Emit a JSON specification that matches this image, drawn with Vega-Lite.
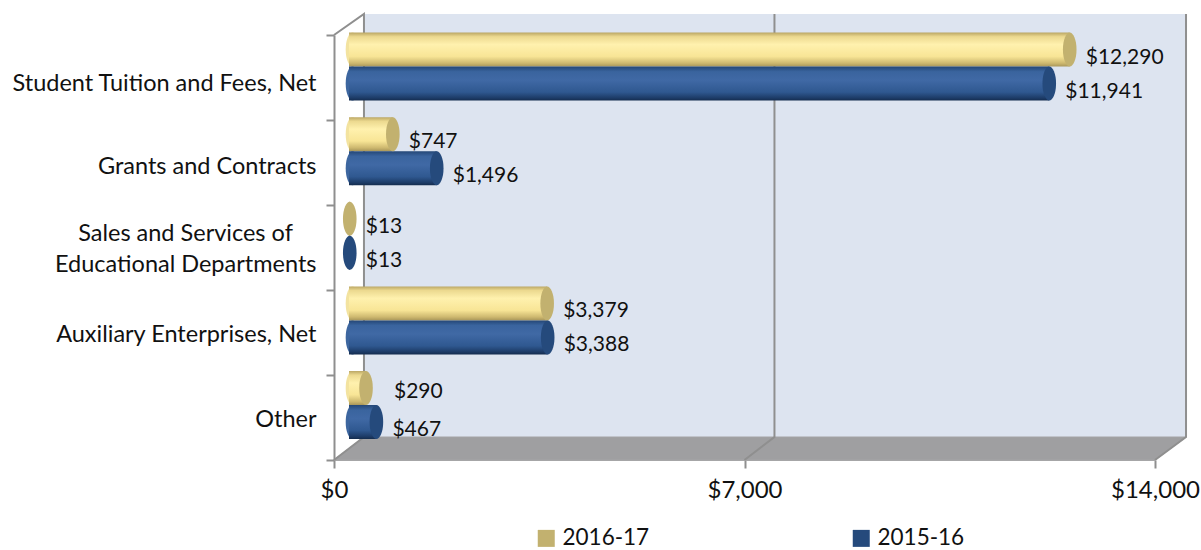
{
"$schema":"https://vega.github.io/schema/vega-lite/v6.json",
"width":821,"height":425,
"autosize":"none",
"padding":{"left":334,"top":35,"right":46,"bottom":90},
"background":"white",
"config":{"view":{"stroke":null},"font":"Lato","text":{"font":"Lato"}},
"datasets":{
"rev":[
{"category":"Student Tuition and Fees, Net","series":"2016-17","value":12290},
{"category":"Student Tuition and Fees, Net","series":"2015-16","value":11941},
{"category":"Grants and Contracts","series":"2016-17","value":747},
{"category":"Grants and Contracts","series":"2015-16","value":1496},
{"category":"Sales and Services of Educational Departments","series":"2016-17","value":13},
{"category":"Sales and Services of Educational Departments","series":"2015-16","value":13},
{"category":"Auxiliary Enterprises, Net","series":"2016-17","value":3379},
{"category":"Auxiliary Enterprises, Net","series":"2015-16","value":3388},
{"category":"Other","series":"2016-17","value":290},
{"category":"Other","series":"2015-16","value":467}
],
"wall":[{"x0":511,"x1":14529,"y0":23,"y1":446}],
"floor":[{"i":0,"x":0,"y":0},{"i":1,"x":511,"y":23},{"i":2,"x":14529,"y":23},{"i":3,"x":14000,"y":0}],
"edges":[
{"path":"left","i":0,"x":0,"y":425},{"path":"left","i":1,"x":511,"y":446},{"path":"left","i":2,"x":511,"y":23},{"path":"left","i":3,"x":0,"y":0},
{"path":"mid","i":0,"x":7000,"y":0},{"path":"mid","i":1,"x":7511,"y":23},{"path":"mid","i":2,"x":7511,"y":446},
{"path":"right","i":0,"x":14000,"y":0},{"path":"right","i":1,"x":14529,"y":23},{"path":"right","i":2,"x":14529,"y":446}
]
},
"data":{"name":"rev"},
"resolve":{"scale":{"y":"independent","color":"independent"},"axis":{"x":"independent"}},
"layer":[
{"data":{"name":"wall"},"mark":{"type":"rect","fill":"#dde4f0"},
"encoding":{
"x":{"field":"x0","type":"quantitative","scale":{"domain":[0,14000]},"axis":{"values":[0,7000,14000],"format":"$,.0f","title":null,"grid":false,"labelFontSize":24,"labelFlush":false,"labelOverlap":false,"labelColor":"#111111","labelPadding":10,"labelFont":"Lato","tickSize":8,"tickWidth":2,"tickColor":"#8f8f8f","domainColor":"#a8a8a8","domainWidth":1}},
"x2":{"field":"x1"},
"y":{"field":"y0","type":"quantitative","scale":{"domain":[0,425]},"axis":null},
"y2":{"field":"y1"}}},
{"data":{"name":"floor"},"mark":{"type":"line","interpolate":"linear-closed","fill":"#9f9fa1","stroke":"#a4a4a6","strokeWidth":1},
"encoding":{
"x":{"field":"x","type":"quantitative","scale":{"domain":[0,14000]},"axis":null},
"y":{"field":"y","type":"quantitative","scale":{"domain":[0,425]},"axis":null},
"order":{"field":"i"}}},
{"data":{"name":"edges"},"mark":{"type":"line","stroke":"#8f8f8f","strokeWidth":2},
"encoding":{
"x":{"field":"x","type":"quantitative","scale":{"domain":[0,14000]},"axis":null},
"y":{"field":"y","type":"quantitative","scale":{"domain":[0,425]},"axis":null},
"detail":{"field":"path"},
"order":{"field":"i"}}},
{"mark":{"type":"point","opacity":0},
"encoding":{
"x":{"field":"value","type":"quantitative","scale":{"domain":[0,14000]},"axis":null},
"y":{"field":"category","type":"nominal","sort":null,"scale":{"paddingInner":0,"paddingOuter":0},
"axis":{"title":null,"tickBand":"extent","tickSize":8,"tickWidth":2,"tickColor":"#8f8f8f","domainColor":"#8f8f8f","domainWidth":2,"labelFontSize":23.5,"labelColor":"#111111","labelFont":"Lato","labelPadding":10,"labelLimit":340,"labelLineHeight":31,
"labelOffset":{"expr":"datum.value == 'Student Tuition and Fees, Net' ? 6 : datum.value == 'Sales and Services of Educational Departments' ? -14 : datum.value == 'Grants and Contracts' ? 4 : 2"},
"labelExpr":"datum.value == 'Sales and Services of Educational Departments' ? ['Sales and Services of\u00a0\u00a0\u00a0\u00a0\u200c','Educational Departments'] : datum.value"}}}},
{"transform":[{"filter":"datum.value > 100"}],
"mark":{"type":"point","filled":true,"opacity":1,"xOffset":18.5,"shape":"M0,-1 C0.2,-1 0.4,-0.6 0.4,0 C0.4,0.6 0.2,1 0,1 C-0.2,1 -0.4,0.6 -0.4,0 C-0.4,-0.6 -0.2,-1 0,-1 Z","size":1156},
"encoding":{
"x":{"datum":0,"type":"quantitative","scale":{"domain":[0,14000]},"axis":null},
"y":{"field":"category","type":"nominal","sort":null,"axis":null,"scale":{"domain":["Student Tuition and Fees, Net","Grants and Contracts","Sales and Services of Educational Departments","Auxiliary Enterprises, Net","Other"],"range":[-10,413],"paddingInner":0.18,"paddingOuter":0.09}},
"yOffset":{"field":"series","scale":{"domain":["2016-17","2015-16"],"range":[0,68]}},
"color":{"field":"series","legend":null,"scale":{"domain":["2016-17","2015-16"],"range":["#f3e3a0","#3d669f"]}}}},
{"transform":[{"filter":"datum.series == '2016-17'"}],
"mark":{"type":"bar","xOffset":15,"x2Offset":15,"fill":{"gradient":"linear","x1":0,"y1":0,"x2":0,"y2":1,"stops":[{"offset":0,"color":"#bba765"},{"offset":0.12,"color":"#ecd98f"},{"offset":0.35,"color":"#fff1ae"},{"offset":0.7,"color":"#f8e596"},{"offset":0.9,"color":"#cdb86f"},{"offset":1,"color":"#a8965a"}]}},
"encoding":{
"x":{"field":"value","type":"quantitative","stack":null,"scale":{"domain":[0,14000]},"axis":null},
"x2":{"datum":0},
"y":{"field":"category","type":"nominal","sort":null,"axis":null,"scale":{"domain":["Student Tuition and Fees, Net","Grants and Contracts","Sales and Services of Educational Departments","Auxiliary Enterprises, Net","Other"],"range":[-10,413],"paddingInner":0.18,"paddingOuter":0.09}},
"yOffset":{"field":"series","scale":{"domain":["2016-17","2015-16"],"range":[0,68]}}}},
{"transform":[{"filter":"datum.series == '2015-16'"}],
"mark":{"type":"bar","xOffset":15,"x2Offset":15,"fill":{"gradient":"linear","x1":0,"y1":0,"x2":0,"y2":1,"stops":[{"offset":0,"color":"#244777"},{"offset":0.15,"color":"#3a649e"},{"offset":0.4,"color":"#4069a5"},{"offset":0.75,"color":"#2f5890"},{"offset":0.92,"color":"#1d3c68"},{"offset":1,"color":"#142c4e"}]}},
"encoding":{
"x":{"field":"value","type":"quantitative","stack":null,"scale":{"domain":[0,14000]},"axis":null},
"x2":{"datum":0},
"y":{"field":"category","type":"nominal","sort":null,"axis":null,"scale":{"domain":["Student Tuition and Fees, Net","Grants and Contracts","Sales and Services of Educational Departments","Auxiliary Enterprises, Net","Other"],"range":[-10,413],"paddingInner":0.18,"paddingOuter":0.09}},
"yOffset":{"field":"series","scale":{"domain":["2016-17","2015-16"],"range":[0,68]}}}},
{"mark":{"type":"point","filled":true,"opacity":1,"xOffset":15,"shape":"M0,-1 C0.2,-1 0.4,-0.6 0.4,0 C0.4,0.6 0.2,1 0,1 C-0.2,1 -0.4,0.6 -0.4,0 C-0.4,-0.6 -0.2,-1 0,-1 Z","size":1156},
"encoding":{
"x":{"field":"value","type":"quantitative","scale":{"domain":[0,14000]},"axis":null},
"y":{"field":"category","type":"nominal","sort":null,"axis":null,"scale":{"domain":["Student Tuition and Fees, Net","Grants and Contracts","Sales and Services of Educational Departments","Auxiliary Enterprises, Net","Other"],"range":[-10,413],"paddingInner":0.18,"paddingOuter":0.09}},
"yOffset":{"field":"series","scale":{"domain":["2016-17","2015-16"],"range":[0,68]}},
"color":{"field":"series","scale":{"domain":["2016-17","2015-16"],"range":["#c2b16f","#254a7c"]},
"legend":{"orient":"none","legendX":201,"legendY":492,"direction":"horizontal","columns":2,"columnPadding":200,"title":null,"symbolType":"square","symbolSize":289,"labelFontSize":22.5,"labelColor":"#111111","labelFont":"Lato","labelOffset":5,"symbolStrokeWidth":0}}}},
{"transform":[{"filter":"datum.value != 290"}],
"mark":{"type":"text","align":"left","baseline":"middle","dx":31,"dy":8,"fontSize":21,"font":"Lato","color":"#111111"},
"encoding":{
"x":{"field":"value","type":"quantitative","scale":{"domain":[0,14000]},"axis":null},
"y":{"field":"category","type":"nominal","sort":null,"axis":null,"scale":{"domain":["Student Tuition and Fees, Net","Grants and Contracts","Sales and Services of Educational Departments","Auxiliary Enterprises, Net","Other"],"range":[-10,413],"paddingInner":0.18,"paddingOuter":0.09}},
"yOffset":{"field":"series","scale":{"domain":["2016-17","2015-16"],"range":[0,68]}},
"text":{"field":"value","type":"quantitative","format":"$,.0f"}}},
{"transform":[{"filter":"datum.value == 290"}],
"mark":{"type":"text","align":"left","baseline":"middle","dx":43,"dy":4,"fontSize":21,"font":"Lato","color":"#111111"},
"encoding":{
"x":{"field":"value","type":"quantitative","scale":{"domain":[0,14000]},"axis":null},
"y":{"field":"category","type":"nominal","sort":null,"axis":null,"scale":{"domain":["Student Tuition and Fees, Net","Grants and Contracts","Sales and Services of Educational Departments","Auxiliary Enterprises, Net","Other"],"range":[-10,413],"paddingInner":0.18,"paddingOuter":0.09}},
"yOffset":{"field":"series","scale":{"domain":["2016-17","2015-16"],"range":[0,68]}},
"text":{"field":"value","type":"quantitative","format":"$,.0f"}}}
]
}
